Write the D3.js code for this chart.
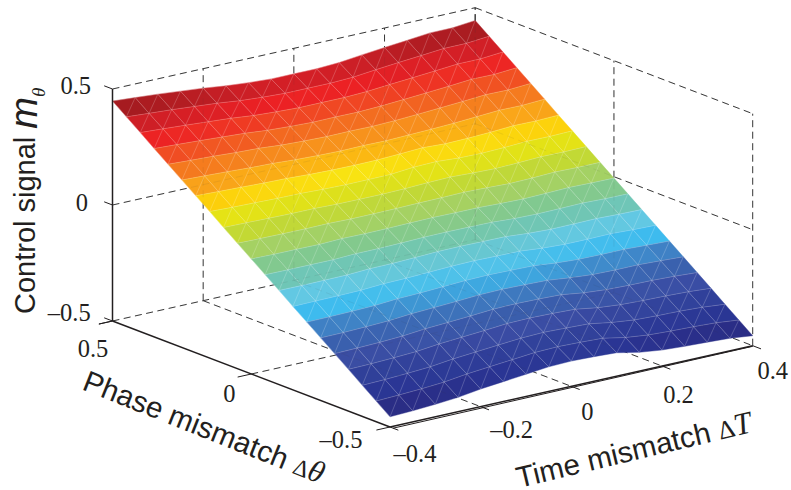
<!DOCTYPE html>
<html>
<head>
<meta charset="utf-8">
<style>
  html, body { margin: 0; padding: 0; background: #fff; }
  svg { display: block; }
  .serif { font-family: "Liberation Serif", serif; font-size: 24.5px; fill: #231f20; }
  .sans { font-family: "Liberation Sans", Arial, sans-serif; font-size: 29.5px; fill: #231f20; }
</style>
<script src="https://cdn.jsdelivr.net/npm/d3@7"></script>
</head>
<body>
<div class="canvas"></div>
<script>
const dims = { width: 791, height: 490 };

// grid of the surface
const timeValues = [-0.4, -0.35, -0.3, -0.25, -0.2, -0.15, -0.1, -0.05, 0, 0.05, 0.1, 0.15, 0.2, 0.25, 0.3, 0.35, 0.4];
const phaseValues = [0.5, 0.45, 0.4, 0.35, 0.3, 0.25, 0.2, 0.15, 0.1, 0.05, 0, -0.05, -0.1, -0.15, -0.2, -0.25, -0.3, -0.35, -0.4, -0.45, -0.5];

// control signal, one list per time value, phase running from 0.5 to -0.5
const controlSignal = [
  [.448,.403,.358,.312,.267,.222,.177,.132,.086,.041,-.004,-.049,-.094,-.140,-.185,-.230,-.275,-.320,-.366,-.411,-.456],
  [.441,.396,.352,.307,.262,.218,.173,.128,.084,.039,-.006,-.050,-.095,-.139,-.184,-.229,-.273,-.318,-.363,-.407,-.452],
  [.434,.390,.346,.302,.258,.214,.170,.126,.082,.038,-.006,-.050,-.094,-.138,-.182,-.226,-.270,-.314,-.358,-.402,-.446],
  [.425,.382,.339,.296,.252,.209,.166,.123,.080,.037,-.007,-.050,-.093,-.136,-.179,-.222,-.265,-.309,-.352,-.395,-.438],
  [.416,.374,.332,.290,.248,.206,.164,.122,.080,.038,-.004,-.046,-.088,-.130,-.172,-.214,-.256,-.298,-.340,-.382,-.424],
  [.404,.363,.322,.281,.240,.200,.159,.118,.077,.036,-.005,-.046,-.087,-.128,-.169,-.209,-.250,-.291,-.332,-.373,-.414],
  [.396,.356,.316,.276,.236,.196,.156,.116,.076,.036,-.004,-.044,-.084,-.124,-.164,-.204,-.244,-.284,-.324,-.364,-.404],
  [.390,.351,.312,.272,.233,.194,.155,.116,.076,.037,-.002,-.041,-.080,-.120,-.159,-.198,-.237,-.276,-.316,-.355,-.394],
  [.390,.351,.312,.273,.234,.195,.156,.117,.078,.039,-.001,-.040,-.079,-.118,-.157,-.196,-.235,-.274,-.313,-.352,-.391],
  [.390,.351,.312,.272,.233,.194,.160,.126,.082,.040,-.002,-.041,-.080,-.120,-.159,-.198,-.237,-.276,-.316,-.355,-.394],
  [.395,.355,.316,.276,.236,.197,.165,.128,.084,.042,-.002,-.042,-.081,-.121,-.161,-.201,-.240,-.280,-.320,-.359,-.399],
  [.406,.365,.324,.282,.241,.200,.160,.122,.080,.039,-.006,-.048,-.089,-.130,-.171,-.212,-.254,-.295,-.336,-.378,-.419],
  [.416,.374,.331,.289,.247,.204,.162,.120,.077,.035,-.008,-.050,-.093,-.135,-.177,-.220,-.262,-.304,-.347,-.389,-.431],
  [.425,.382,.339,.296,.253,.210,.166,.123,.080,.037,-.006,-.049,-.092,-.135,-.178,-.222,-.265,-.308,-.351,-.394,-.437],
  [.435,.391,.347,.304,.260,.216,.172,.128,.084,.041,-.003,-.047,-.091,-.134,-.178,-.222,-.266,-.310,-.353,-.397,-.441],
  [.435,.391,.347,.303,.259,.215,.171,.127,.083,.039,-.005,-.050,-.094,-.138,-.182,-.226,-.270,-.314,-.358,-.402,-.446],
  [.445,.400,.355,.310,.265,.220,.174,.129,.084,.039,-.006,-.051,-.096,-.141,-.186,-.231,-.276,-.321,-.367,-.412,-.457]
];

const colorLevels = [.425, .380, .335, .290, .245, .199, .155, .130, .109, .064, .018, -.027, -.072, -.118, -.163, -.208, -.253, -.298, -.344, -.389, -.434];
const colorValues = ['#a31b20', '#cc1f26', '#ec2024', '#f04a23', '#f4761f', '#f9a01b', '#fdcc0a', '#f7ea14', '#e6e314', '#c4d932', '#a5d163', '#82c98f', '#6fc6b6', '#62c8e4', '#3dbbee', '#3f7fc3', '#3a5fad', '#3a4ca3', '#2f3f99', '#2a3594', '#2a2c84'];

const timeTicks = [-0.4, -0.2, 0, 0.2, 0.4];
const phaseTicks = [0.5, 0, -0.5];
const signalTicks = [-0.5, 0, 0.5];

const timeTickLabels = ['–0.4', '–0.2', '0', '0.2', '0.4'];
const phaseTickLabels = ['0.5', '0', '–0.5'];
const signalTickLabels = ['–0.5', '0', '0.5'];

// the view is orthographic, so each data axis just adds a screen offset
const origin = { x: 390, y: 427 }; // front corner of the floor
const timeToX = d3.scaleLinear().domain([-0.4, 0.4]).range([0, 362.7]);
const timeToY = d3.scaleLinear().domain([-0.4, 0.4]).range([0, -81.3]);
const phaseToX = d3.scaleLinear().domain([-0.5, 0.5]).range([0, -277.5]);
const phaseToY = d3.scaleLinear().domain([-0.5, 0.5]).range([0, -106]);
const signalToY = d3.scaleLinear().domain([-0.5, 0.5]).range([0, -232]);

const px = (t, p) => origin.x + timeToX(t) + phaseToX(p);
const py = (t, p, z) => origin.y + timeToY(t) + phaseToY(p) + signalToY(z);

const color = d3.scaleLinear().domain(colorLevels).range(colorValues).clamp(true);

const svg = d3.select('.canvas').append('svg')
  .attr('width', dims.width)
  .attr('height', dims.height);

const seg = (a, b) => ({ x1: px(a[0], a[1]), y1: py(a[0], a[1], a[2]), x2: px(b[0], b[1]), y2: py(b[0], b[1], b[2]) });

// dashed box: back walls and floor
const tMin = -0.4, tMax = 0.4, pMin = -0.5, pMax = 0.5, zMin = -0.5, zMax = 0.5;
const dashed = [];
signalTicks.forEach(z => {
  dashed.push(seg([tMin, pMax, z], [tMax, pMax, z]));
  dashed.push(seg([tMax, pMax, z], [tMax, pMin, z]));
});
timeTicks.slice(1).forEach(t => dashed.push(seg([t, pMax, zMin], [t, pMax, zMax])));
phaseTicks.forEach(p => dashed.push(seg([tMax, p, zMin], [tMax, p, zMax])));
timeTicks.slice(1, -1).forEach(t => dashed.push(seg([t, pMax, zMin], [t, pMin, zMin])));
dashed.push(seg([tMin, 0, zMin], [tMax, 0, zMin]));

const drawDashed = (parent, opacity) => parent.append('g')
  .selectAll('line')
  .data(dashed)
  .enter()
  .append('line')
    .attr('x1', d => d.x1).attr('y1', d => d.y1)
    .attr('x2', d => d.x2).attr('y2', d => d.y2)
    .attr('stroke', '#3a3a3a')
    .attr('stroke-width', 1)
    .attr('stroke-dasharray', '7 4.5')
    .attr('opacity', opacity);

drawDashed(svg, 1);

// surface: every cell is split in two triangles, coloured by the cell mean
const cells = [];
for (let c = 0; c < timeValues.length - 1; c++) {
  for (let r = 0; r < phaseValues.length - 1; r++) {
    const corner = (i, j) => [px(timeValues[i], phaseValues[j]), py(timeValues[i], phaseValues[j], controlSignal[i][j])];
    const mean = d3.mean([controlSignal[c][r], controlSignal[c + 1][r], controlSignal[c][r + 1], controlSignal[c + 1][r + 1]]);
    cells.push({ a: corner(c, r), b: corner(c + 1, r), d: corner(c + 1, r + 1), e: corner(c, r + 1), mean });
  }
}

const line = d3.line();
const surface = svg.append('g');

surface.selectAll('path.cell')
  .data(cells)
  .enter()
  .append('path')
    .attr('class', 'cell')
    .attr('d', d => line([d.a, d.b, d.d, d.e]) + 'Z')
    .attr('fill', d => color(d.mean))
    .attr('stroke', d => color(d.mean))
    .attr('stroke-width', 0.4);

// light mesh on top, with the steep diagonal of every cell
surface.selectAll('path.mesh')
  .data(cells)
  .enter()
  .append('path')
    .attr('class', 'mesh')
    .attr('d', d => line([d.e, d.a, d.b]) + line([d.e, d.b]))
    .attr('fill', 'none')
    .attr('stroke', '#fff')
    .attr('stroke-opacity', 0.33)
    .attr('stroke-width', 0.6);

// the grid shows faintly through the surface
drawDashed(svg, 0.08);

// solid axes
const solid = [
  seg([tMin, pMax, zMin], [tMin, pMax, zMax]),
  seg([tMin, pMax, zMin], [tMin, pMin, zMin]),
  seg([tMin, pMin, zMin], [tMax, pMin, zMin])
];
svg.append('g').selectAll('line')
  .data(solid)
  .enter()
  .append('line')
    .attr('x1', d => d.x1).attr('y1', d => d.y1)
    .attr('x2', d => d.x2).attr('y2', d => d.y2)
    .attr('stroke', '#231f20')
    .attr('stroke-width', 1.5);

// second stroke of the time axis, it looks doubled in the figure
svg.append('line')
  .attr('x1', px(tMin, pMin) + 3).attr('y1', py(tMin, pMin, zMin) + 1.2)
  .attr('x2', px(tMax, pMin)).attr('y2', py(tMax, pMin, zMin) + 0.6)
  .attr('stroke', '#231f20')
  .attr('stroke-width', 1);

// tick marks
const tickLen = 0.03;
const ticks = [];
signalTicks.forEach(z => ticks.push(seg([tMin, pMax, z], [tMin, pMax + tickLen, z])));
ticks.push(seg([tMin, pMax, zMin], [tMin - tickLen, pMax, zMin]));
phaseTicks.forEach(p => ticks.push(seg([tMin, p, zMin], [tMin - tickLen, p, zMin])));
timeTicks.forEach(t => ticks.push(seg([t, pMin, zMin], [t, pMin - tickLen, zMin])));

svg.append('g').selectAll('line')
  .data(ticks)
  .enter()
  .append('line')
    .attr('x1', d => d.x1).attr('y1', d => d.y1)
    .attr('x2', d => d.x2).attr('y2', d => d.y2)
    .attr('stroke', '#231f20')
    .attr('stroke-width', 1);

// tick labels, nudged by hand away from the axes
const signalLabelDx = [-21.8, -24.5, -21.5], signalLabelDy = [-9, -3, -4];
const phaseLabelDx = [-19.5, -22, -49], phaseLabelDy = [27, 19, 12];
const timeLabelDx = [25, 31, 16, 16.5, 20], timeLabelDy = [26, 23, 25, 28, 25];

const label = (x, y, s, anchor) => svg.append('text')
  .attr('class', 'serif')
  .attr('x', x).attr('y', y)
  .attr('text-anchor', anchor)
  .attr('dominant-baseline', 'central')
  .text(s);

signalTicks.forEach((z, i) => label(px(tMin, pMax) + signalLabelDx[i], py(tMin, pMax, z) + signalLabelDy[i], signalTickLabels[i], 'end'));
phaseTicks.forEach((p, i) => label(px(tMin, p) + phaseLabelDx[i], py(tMin, p, zMin) + phaseLabelDy[i], phaseTickLabels[i], 'middle'));
timeTicks.forEach((t, i) => label(px(t, pMin) + timeLabelDx[i], py(t, pMin, zMin) + timeLabelDy[i], timeTickLabels[i], 'middle'));

// axis titles
const yTitle = svg.append('text')
  .attr('class', 'sans')
  .attr('font-size', 29)
  .style('font-size', '29px')
  .attr('transform', 'translate(35,314) rotate(-90)');
yTitle.append('tspan').text('Control signal ');
yTitle.append('tspan').style('font-style', 'italic').style('font-size', '38px').attr('dy', 2).text('m');
yTitle.append('tspan').style('font-family', 'Liberation Serif').style('font-style', 'italic').style('font-size', '19px').attr('dy', 8).text('θ');

const phaseTitle = svg.append('text')
  .attr('class', 'sans')
  .attr('transform', 'translate(81,389) rotate(21.7)');
phaseTitle.append('tspan').text('Phase mismatch ');
phaseTitle.append('tspan').style('font-family', 'Liberation Serif').style('font-size', '24px').text('Δ');
phaseTitle.append('tspan').style('font-family', 'Liberation Serif').style('font-style', 'italic').style('font-size', '31px').text('θ');

const timeTitle = svg.append('text')
  .attr('class', 'sans')
  .attr('transform', 'translate(519,488) rotate(-13.5)');
timeTitle.append('tspan').text('Time mismatch ');
timeTitle.append('tspan').style('font-family', 'Liberation Serif').style('font-size', '26px').text('Δ');
timeTitle.append('tspan').style('font-family', 'Liberation Serif').style('font-style', 'italic').style('font-size', '31px').text('T');
</script>
</body>
</html>
